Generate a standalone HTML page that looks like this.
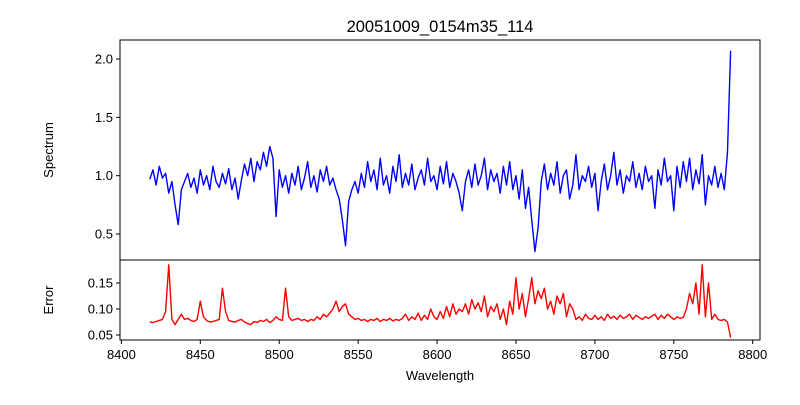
<!DOCTYPE html>
<html><head><meta charset="utf-8"><style>
body{margin:0;background:#fff}
svg text{font-family:"Liberation Sans","DejaVu Sans",sans-serif;fill:#000}
</style></head><body>
<svg id="chart" width="800" height="400" xmlns="http://www.w3.org/2000/svg">
<rect width="800" height="400" fill="#fff"/>
<text x="440" y="32" font-size="16.5" text-anchor="middle">20051009_0154m35_114</text>
<g id="topG"></g>
<g id="botG"></g>
<text transform="translate(53,150) rotate(-90)" font-size="13" text-anchor="middle">Spectrum</text>
<text transform="translate(53,300) rotate(-90)" font-size="13" text-anchor="middle">Error</text>
<text x="440" y="380" font-size="13" text-anchor="middle">Wavelength</text>
</svg>
<script>
const wlStart = 8418, wlStep = 2;
const flux = [
0.97,1.05,0.92,1.08,0.98,1.02,0.85,0.95,0.75,0.58,
0.88,0.95,1.02,0.90,0.98,0.85,1.05,0.92,1.00,0.88,
1.08,0.95,0.90,1.02,0.93,1.06,0.88,0.98,0.80,0.96,
1.10,1.00,1.15,0.95,1.12,1.05,1.20,1.08,1.25,1.15,
0.65,1.05,0.90,1.00,0.85,1.02,0.92,1.08,0.88,0.98,
1.12,0.90,1.00,0.86,1.05,0.95,1.08,0.92,0.98,0.88,
0.80,0.62,0.40,0.78,0.88,0.95,0.85,1.02,0.90,1.12,
0.95,1.05,0.88,1.15,0.92,1.00,0.85,1.08,0.95,1.18,
0.90,1.02,0.92,1.10,0.88,0.98,1.05,0.92,1.15,0.95,
1.00,0.88,1.08,0.93,1.12,0.90,1.02,0.95,0.85,0.70,
0.95,1.05,0.90,1.10,0.92,1.00,1.15,0.88,1.05,0.95,
1.02,0.85,1.08,0.92,1.12,0.88,1.00,0.80,1.05,0.72,
0.90,0.62,0.35,0.55,0.95,1.10,0.88,1.02,0.92,1.12,
0.85,1.00,1.05,0.80,0.92,1.18,0.88,1.00,0.95,1.08,
0.90,1.02,0.70,0.95,1.10,0.88,1.00,1.20,0.92,1.05,
0.85,1.00,0.95,1.12,0.90,1.02,0.88,1.08,0.95,1.00,
0.72,1.05,0.92,1.15,0.95,1.00,0.70,1.08,0.90,1.12,
0.95,1.15,0.88,1.05,0.93,1.18,0.75,1.00,0.92,1.08,
0.90,1.02,0.88,1.20,2.07];
const err = [
0.075,0.074,0.076,0.078,0.080,0.095,0.185,0.080,0.070,0.080,
0.090,0.080,0.082,0.078,0.076,0.080,0.115,0.085,0.078,0.075,
0.076,0.078,0.080,0.140,0.095,0.078,0.076,0.075,0.078,0.080,
0.075,0.072,0.070,0.076,0.074,0.078,0.076,0.080,0.074,0.078,
0.085,0.080,0.078,0.140,0.085,0.078,0.080,0.082,0.078,0.080,
0.076,0.080,0.078,0.085,0.080,0.090,0.085,0.092,0.100,0.115,
0.095,0.105,0.110,0.090,0.085,0.080,0.082,0.078,0.080,0.076,
0.080,0.078,0.082,0.076,0.080,0.078,0.082,0.077,0.080,0.078,
0.082,0.090,0.078,0.085,0.080,0.092,0.078,0.088,0.080,0.100,
0.085,0.080,0.095,0.082,0.105,0.085,0.110,0.090,0.100,0.095,
0.110,0.090,0.118,0.100,0.112,0.095,0.125,0.085,0.105,0.095,
0.110,0.080,0.100,0.070,0.115,0.090,0.160,0.100,0.130,0.085,
0.120,0.160,0.110,0.135,0.120,0.140,0.100,0.115,0.090,0.125,
0.110,0.130,0.085,0.110,0.100,0.080,0.085,0.078,0.090,0.082,
0.080,0.088,0.080,0.085,0.078,0.090,0.082,0.086,0.080,0.088,
0.082,0.085,0.090,0.080,0.088,0.084,0.080,0.085,0.082,0.086,
0.090,0.080,0.088,0.082,0.090,0.085,0.080,0.085,0.082,0.084,
0.100,0.130,0.110,0.150,0.090,0.185,0.085,0.150,0.080,0.090,
0.080,0.078,0.080,0.075,0.045];
const xTicks = [8400,8450,8500,8550,8600,8650,8700,8750,8800];
const topTicks = [0.5,1.0,1.5,2.0];
const botTicks = [0.05,0.10,0.15];

const NS='http://www.w3.org/2000/svg';
const L=120,R=760;
const xS=v=>121.4+(v-8400)*1.5783;
const yT=v=>175.7-(v-1)*116.67;
const yB=v=>309-(v-0.1)*520;
function mk(tag,attrs,parent){const e=document.createElementNS(NS,tag);for(const k in attrs)e.setAttribute(k,attrs[k]);parent.appendChild(e);return e;}
const topG=document.getElementById('topG'), botG=document.getElementById('botG');

function panel(g,y0,y1,ticks,yf,data,color,nm,fmt){
  let d='';
  data.forEach((v,i)=>{d+=(i?'L':'M')+xS(wlStart+i*wlStep).toFixed(2)+','+yf(v).toFixed(2);});
  const p=mk('path',{d:d,fill:'none',stroke:color,'stroke-width':1.4,'stroke-linejoin':'round'},g);
  
  
  ticks.forEach(t=>{
    const yy=yf(t);
    const tl=mk('line',{x1:L-4,x2:L,y1:yy,y2:yy,stroke:'#000','stroke-width':1},g);
    
    
    const tx=mk('text',{x:L-7,y:yy+4.5,'font-size':13,'text-anchor':'end'},g);
    tx.textContent=fmt(t);
    
    
  });
  const fr=mk('rect',{x:L,y:y0,width:R-L,height:y1-y0,fill:'none',stroke:'#000','stroke-width':1},g);
  
  
}
panel(topG,40,260,topTicks,yT,flux,'#0000ff','spectrum',t=>t.toFixed(1));
panel(botG,260,340,botTicks,yB,err,'#ff0000','error',t=>t.toFixed(2));
xTicks.forEach(t=>{
  const xx=xS(t);
  const tl=mk('line',{x1:xx,x2:xx,y1:340,y2:344,stroke:'#000','stroke-width':1},botG);
  
  
  const tx=mk('text',{x:xx,y:359,'font-size':13,'text-anchor':'middle'},botG);
  tx.textContent=t;
  
  
});
</script>
</body></html>
